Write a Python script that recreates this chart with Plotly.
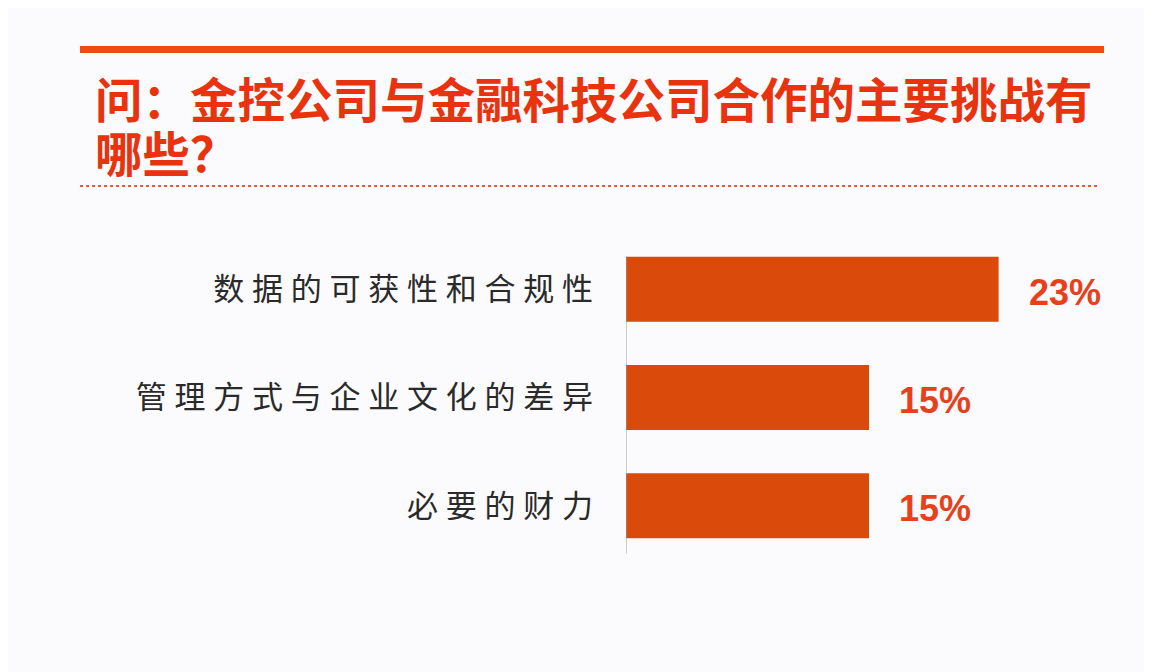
import plotly.graph_objects as go

# data
categories = ["数据的可获性和合规性", "管理方式与企业文化的差异", "必要的财力"]
values = [23, 15, 15]
value_labels = ["23%", "15%", "15%"]
title_lines = ["问：金控公司与金融科技公司合作的主要挑战有", "哪些？"]

OFF = 8  # page margin of the browser
W, H = 1152 - OFF, 672 - OFF
L, R, T, B = 626 - OFF, 40, 235 - OFF, 120 - OFF
pw, ph = W - L - R, H - T - B


def px(x):
    return (x - OFF - L) / pw


def py(y):
    return (H - B - (y - OFF)) / ph


bar_color = "#DA4A0A"
red = "#E8401A"
title_red = "#E8330E"


def spaced(s):
    return "\u2005".join(s)


fig = go.Figure(go.Bar(
    x=values,
    y=categories,
    orientation="h",
    marker=dict(color=bar_color, line=dict(width=0)),
    width=0.6,
    hoverinfo="skip",
))

for cat, v, lab in zip(categories, values, value_labels):
    fig.add_annotation(x=v, y=cat, text=lab, showarrow=False, xanchor="left",
                       xshift=28, yshift=-3,
                       font=dict(family="Liberation Sans, Arial", size=36, color=red, weight="bold"))

# title
for i, line in enumerate(title_lines):
    fig.add_annotation(xref="paper", yref="paper", x=px(93), y=py(97 + 54 * i),
                       text=line, showarrow=False, xanchor="left", yanchor="middle",
                       font=dict(family="Noto Sans CJK SC", size=47.5, color=title_red, weight="bold"))

# decorative lines
fig.add_shape(type="rect", xref="paper", yref="paper", x0=px(80), x1=px(1104),
              y0=py(46), y1=py(53), fillcolor="#EE4A12", line=dict(width=0))
fig.add_shape(type="line", xref="paper", yref="paper", x0=px(80), x1=px(1100),
              y0=py(186), y1=py(186), line=dict(color="#E85A3A", width=2, dash="dot"))

# thin axis line
fig.add_shape(type="line", xref="x", yref="y", x0=0, x1=0, y0=-0.3, y1=2.44,
              line=dict(color="#9AA0A8", width=1))

fig.update_layout(
    width=W, height=H,
    margin=dict(l=L, r=R, t=T, b=B),
    paper_bgcolor="#FBFBFD",
    plot_bgcolor="#FBFBFD",
    showlegend=False,
    bargap=0.4,
)
fig.update_xaxes(range=[0, pw / 16.2], visible=False)
fig.update_yaxes(categoryorder="array", categoryarray=categories, range=[2.5, -0.5],
                 showline=False, showgrid=False, zeroline=False, ticks="",
                 ticklabelstandoff=32,
                 tickvals=categories, ticktext=[spaced(c) for c in categories],
                 tickfont=dict(family="Noto Sans CJK SC", size=31, color="#2A2A2A"))

fig.write_html("out.html")
